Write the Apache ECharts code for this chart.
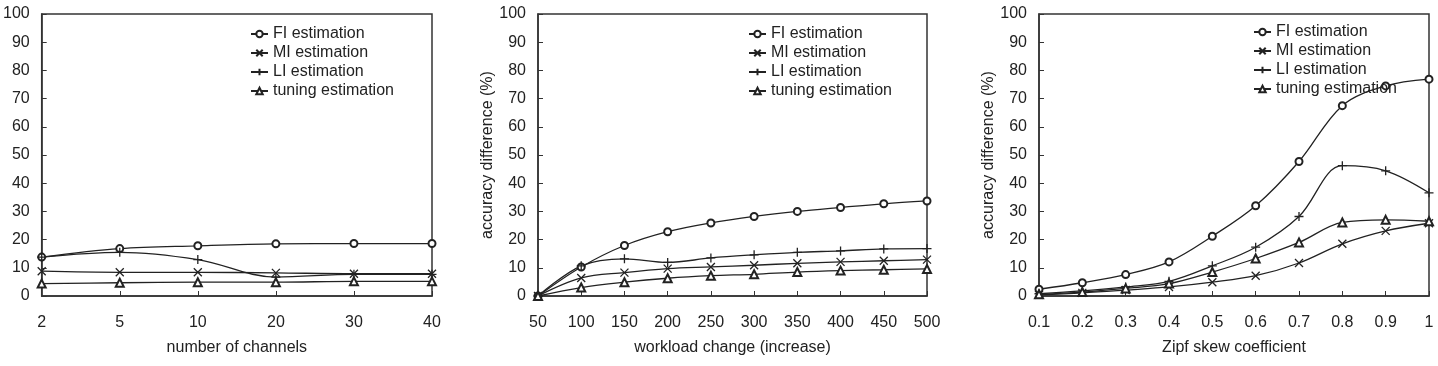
<!DOCTYPE html>
<html>
<head>
<meta charset="utf-8">
<script src="https://cdn.jsdelivr.net/npm/echarts@6/dist/echarts.min.js"></script>
<style>
  html, body { margin: 0; padding: 0; background: #fff; }
  #chart { width: 1438px; height: 366px; }
</style>
</head>
<body>
<div id="chart"></div>
<script>
const seriesNames = ["FI estimation", "MI estimation", "LI estimation", "tuning estimation"];
const yTicks = [0, 10, 20, 30, 40, 50, 60, 70, 80, 90, 100];

// panel 1: number of channels
const channels = ["2", "5", "10", "20", "30", "40"];
const chFI = [13.8, 16.8, 17.8, 18.5, 18.6, 18.6];
const chMI = [8.8, 8.4, 8.4, 8.2, 7.9, 7.9];
const chLI = [13.8, 15.5, 12.9, 6.7, 7.7, 7.7];
const chTuning = [4.4, 4.7, 4.9, 4.9, 5.2, 5.2];

// panel 2: workload change
const workload = ["50", "100", "150", "200", "250", "300", "350", "400", "450", "500"];
const wlFI = [0, 10.3, 17.9, 22.8, 25.9, 28.2, 30.0, 31.4, 32.7, 33.7];
const wlMI = [0, 6.4, 8.3, 9.7, 10.3, 10.9, 11.6, 12.1, 12.5, 12.9];
const wlLI = [0, 10.7, 13.2, 11.9, 13.5, 14.6, 15.5, 16.0, 16.7, 16.8];
const wlTuning = [0, 3.0, 4.9, 6.3, 7.2, 7.7, 8.5, 9.0, 9.3, 9.6];

// panel 3: Zipf skew
const zipf = ["0.1", "0.2", "0.3", "0.4", "0.5", "0.6", "0.7", "0.8", "0.9", "1"];
const zFI = [2.4, 4.7, 7.6, 12.1, 21.2, 32.0, 47.7, 67.5, 74.5, 76.9];
const zMI = [0.4, 1.1, 2.1, 3.2, 4.9, 7.2, 11.7, 18.5, 23.1, 25.8];
const zLI = [0.8, 1.8, 3.2, 5.2, 10.7, 17.3, 28.2, 46.2, 44.4, 36.6];
const zTuning = [0.6, 1.4, 2.7, 4.4, 8.5, 13.3, 19.0, 26.1, 27.0, 26.5];

const ink = "#222";
const font = "Liberation Sans, Arial, sans-serif";

const symbols = [
  { symbol: "emptyCircle", size: 7 },
  { symbol: "path://M0,0L8,8M8,0L0,8", size: 8 },
  { symbol: "path://M4,0L4,8M0,4L8,4", size: 9 },
  { symbol: "emptyTriangle", size: 8 },
];

const grids = [
  { left: 38, top: 14, width: 394, height: 282 },
  { left: 538, top: 14, width: 389, height: 282 },
  { left: 1039, top: 14, width: 390, height: 282 },
];
const xCats = [channels, workload, zipf];
const xTitles = ["number of channels", "workload change (increase)", "Zipf skew coefficient"];
const yTitles = ["", "accuracy difference (%)", "accuracy difference (%)"];
const panelData = [
  [chFI, chMI, chLI, chTuning],
  [wlFI, wlMI, wlLI, wlTuning],
  [zFI, zMI, zLI, zTuning],
];
const legendPos = [
  { left: 245, top: 21 },
  { left: 743, top: 21 },
  { left: 1248, top: 19 },
];

const chart = echarts.init(document.getElementById("chart"), null, { renderer: "canvas" });

const series = [];
panelData.forEach((rows, p) => {
  rows.forEach((vals, i) => {
    const isPath = symbols[i].symbol.startsWith("path");
    series.push({
      name: seriesNames[i],
      type: "line",
      xAxisIndex: p,
      yAxisIndex: p,
      data: vals,
      smooth: 0.35,
      symbol: symbols[i].symbol,
      symbolSize: symbols[i].size,
      showAllSymbol: true,
      lineStyle: { color: ink, width: 1.3 },
      itemStyle: isPath
        ? { color: ink, borderColor: ink, borderWidth: 1.3 }
        : { color: ink, borderWidth: 1 },
      emphasis: { disabled: true },
      animation: false,
    });
  });
});

chart.setOption({
  animation: false,
  textStyle: { fontFamily: font },
  grid: grids.map((g) => ({ ...g, show: true, borderColor: "#333", borderWidth: 1.5, backgroundColor: "#fff" })),
  legend: legendPos.map((pos) => ({
    ...pos,
    orient: "vertical",
    data: seriesNames,
    itemWidth: 17,
    itemHeight: 8,
    itemGap: 3,
    selectedMode: false,
    textStyle: { fontSize: 16, lineHeight: 16, color: ink, fontFamily: font },
  })),
  xAxis: xCats.map((cats, p) => ({
    type: "category",
    gridIndex: p,
    data: cats,
    boundaryGap: false,
    name: xTitles[p],
    nameLocation: "middle",
    nameGap: 44,
    nameTextStyle: { fontSize: 16, color: ink },
    axisLine: { lineStyle: { color: "#333", width: 1.5 } },
    axisTick: { inside: true, length: 5, lineStyle: { color: "#333" } },
    axisLabel: { fontSize: 16, color: ink, margin: 19 },
    splitLine: { show: false },
  })),
  yAxis: yTitles.map((t, p) => ({
    type: "value",
    gridIndex: p,
    min: yTicks[0],
    max: yTicks[yTicks.length - 1],
    interval: yTicks[1] - yTicks[0],
    name: t,
    nameLocation: "middle",
    nameGap: 40,
    nameTextStyle: { fontSize: 16, color: ink },
    axisLine: { show: true, lineStyle: { color: "#333", width: 1.5 } },
    axisTick: { show: true, inside: true, length: 5, lineStyle: { color: "#333" } },
    axisLabel: { fontSize: 16, color: ink, margin: 12 },
    splitLine: { show: false },
  })),
  series,
});
</script>
</body>
</html>
